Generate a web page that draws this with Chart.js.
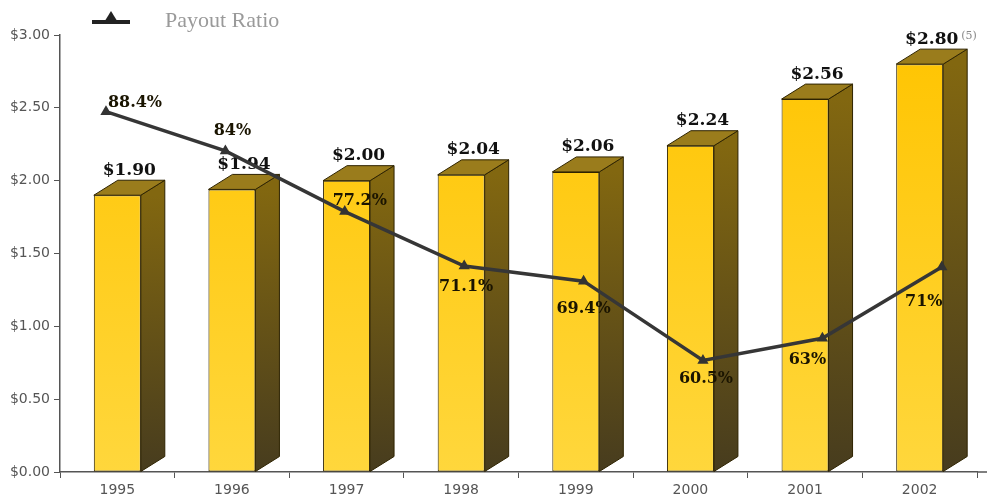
<!DOCTYPE html>
<html>
<head>
<meta charset="utf-8">
<script src="https://cdn.jsdelivr.net/npm/chart.js@4"></script>
<style>
  html, body { margin: 0; padding: 0; background: #fff; }
  #wrap { width: 990px; height: 502px; }
</style>
</head>
<body>
<div id="wrap"><canvas id="divChart" width="990" height="502"></canvas></div>
<script>
const years = ['1995', '1996', '1997', '1998', '1999', '2000', '2001', '2002'];
const dividends = [1.90, 1.94, 2.00, 2.04, 2.06, 2.24, 2.56, 2.80];
const payoutRatio = [88.4, 84, 77.2, 71.1, 69.4, 60.5, 63, 71];
const footnotes = ['', '', '', '', '', '', '', '(5)'];
const yTicks = [0, 0.5, 1, 1.5, 2, 2.5, 3];

// where each payout label sits relative to its point
const ratioLabelOffsets = [[29, -9], [7, -20], [15, -11], [2, 21], [0, 28], [3, 18], [-15, 22], [-18, 35]];

const depthX = 24, depthY = 15;

function money(v) { return '$' + v.toFixed(2); }

const bars3d = {
    id: 'bars3d',
    afterDatasetDraw(chart, args) {
        const ctx = chart.ctx;
        if (args.index === 0) {
            args.meta.data.forEach((bar, i) => {
                const { x, y, base, width } = bar.getProps(['x', 'y', 'base', 'width'], true);
                const l = x - width / 2, r = x + width / 2;
                ctx.save();
                ctx.lineWidth = 1;
                ctx.strokeStyle = '#2e2300';
                // side face
                const g = ctx.createLinearGradient(0, y, 0, base);
                g.addColorStop(0, '#826710');
                g.addColorStop(1, '#473c1e');
                ctx.fillStyle = g;
                ctx.beginPath();
                ctx.moveTo(r, y);
                ctx.lineTo(r + depthX, y - depthY);
                ctx.lineTo(r + depthX, base - depthY);
                ctx.lineTo(r, base);
                ctx.closePath();
                ctx.fill();
                ctx.stroke();
                // top face
                ctx.fillStyle = '#9a7c1c';
                ctx.beginPath();
                ctx.moveTo(l, y);
                ctx.lineTo(l + depthX, y - depthY);
                ctx.lineTo(r + depthX, y - depthY);
                ctx.lineTo(r, y);
                ctx.closePath();
                ctx.fill();
                ctx.stroke();
                // value label
                const txt = money(dividends[i]);
                ctx.font = 'bold 17px "DejaVu Serif"';
                ctx.fillStyle = '#111';
                ctx.textAlign = 'center';
                ctx.textBaseline = 'middle';
                const lx = x + depthX / 2, ly = y - depthY - 10;
                ctx.fillText(txt, lx, ly);
                if (footnotes[i]) {
                    const w = ctx.measureText(txt).width;
                    ctx.font = '11px "DejaVu Serif"';
                    ctx.fillStyle = '#888';
                    ctx.textAlign = 'left';
                    ctx.fillText(footnotes[i], lx + w / 2 + 3, ly - 3);
                }
                ctx.restore();
            });
        } else if (args.index === 1) {
            ctx.save();
            ctx.font = 'bold 16px "DejaVu Serif"';
            ctx.fillStyle = '#1a1400';
            ctx.textAlign = 'center';
            ctx.textBaseline = 'middle';
            args.meta.data.forEach((pt, i) => {
                const off = ratioLabelOffsets[i];
                ctx.fillText(payoutRatio[i] + '%', pt.x + off[0], pt.y + off[1]);
            });
            ctx.restore();
        }
    },
    afterDraw(chart) {
        const ctx = chart.ctx;
        const area = chart.chartArea;
        ctx.save();
        // x axis runs a little past the last year
        ctx.strokeStyle = '#555';
        ctx.lineWidth = 1.5;
        ctx.beginPath();
        ctx.moveTo(area.right, area.bottom);
        ctx.lineTo(area.right + 10, area.bottom);
        ctx.stroke();
        // legend for the ratio line
        ctx.strokeStyle = '#222';
        ctx.lineWidth = 4;
        ctx.beginPath();
        ctx.moveTo(92, 22);
        ctx.lineTo(130, 22);
        ctx.stroke();
        ctx.fillStyle = '#222';
        ctx.beginPath();
        ctx.moveTo(111, 11);
        ctx.lineTo(119, 24);
        ctx.lineTo(103, 24);
        ctx.closePath();
        ctx.fill();
        ctx.font = '22px "Liberation Serif"';
        ctx.fillStyle = '#9a9a9a';
        ctx.textAlign = 'left';
        ctx.textBaseline = 'middle';
        ctx.fillText('Payout Ratio', 165, 21);
        ctx.restore();
    }
};

const ctx = document.getElementById('divChart').getContext('2d');
new Chart(ctx, {
    type: 'bar',
    data: {
        labels: years,
        datasets: [
            {
                label: 'Dividends',
                data: dividends,
                order: 2,
                xAxisID: 'x',
                yAxisID: 'y',
                grouped: false,
                barPercentage: 0.41,
                categoryPercentage: 1,
                borderWidth: 1,
                borderColor: '#2e2300',
                borderSkipped: false,
                backgroundColor(c) {
                    const a = c.chart.chartArea;
                    if (!a) return '#ffc800';
                    const g = c.chart.ctx.createLinearGradient(0, a.top, 0, a.bottom);
                    g.addColorStop(0, '#ffc400');
                    g.addColorStop(1, '#ffd73c');
                    return g;
                }
            },
            {
                type: 'line',
                label: 'Payout Ratio',
                data: payoutRatio.map((v, i) => ({ x: i, y: v })),
                order: 1,
                xAxisID: 'x2',
                yAxisID: 'y2',
                borderColor: '#363636',
                borderWidth: 3.5,
                tension: 0,
                pointStyle: 'triangle',
                pointRadius: 3,
                pointBackgroundColor: '#333',
                pointBorderColor: '#333'
            }
        ]
    },
    options: {
        responsive: false,
        animation: false,
        layout: { padding: { top: 35, right: 13, left: 0, bottom: 0 } },
        plugins: { legend: { display: false }, tooltip: { enabled: false } },
        scales: {
            x: {
                offset: true,
                afterFit(s) { s.height = 30; },
                grid: { drawOnChartArea: false, drawTicks: true, tickLength: 6, color: '#555', offset: true },
                border: { color: '#555', width: 1.5 },
                ticks: { color: '#555', padding: 4, font: { family: 'DejaVu Sans', size: 14 } }
            },
            x2: { type: 'linear', display: false, offset: false, grid: { offset: false }, min: -0.385, max: 7.295 },
            y: {
                min: 0,
                max: 3,
                afterFit(s) { s.width = 60; },
                afterBuildTicks(s) { s.ticks = yTicks.map(v => ({ value: v })); },
                grid: { drawOnChartArea: false, drawTicks: true, tickLength: 6, color: '#555' },
                border: { color: '#555', width: 1.5 },
                ticks: {
                    color: '#555',
                    padding: 4,
                    font: { family: 'DejaVu Sans', size: 14 },
                    callback: v => money(v)
                }
            },
            y2: { display: false, min: 48, max: 97 }
        }
    },
    plugins: [bars3d]
});
</script>
</body>
</html>
